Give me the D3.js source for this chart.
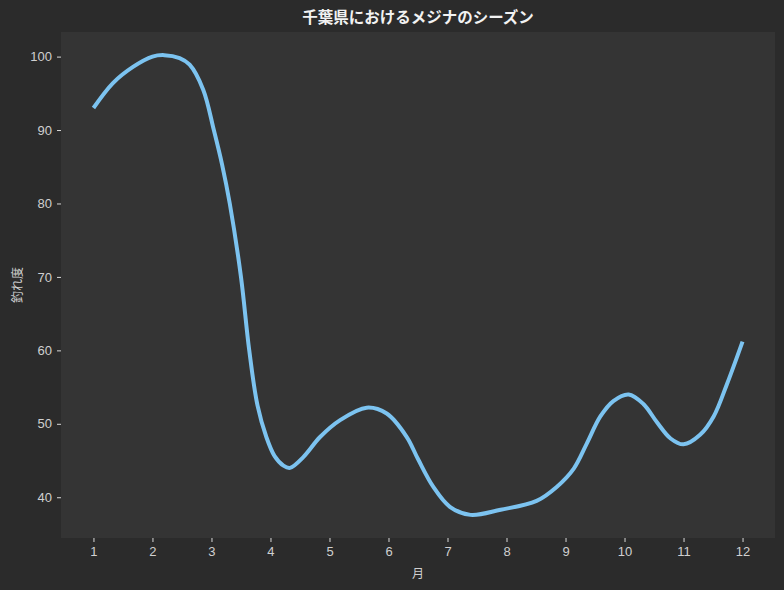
<!DOCTYPE html>
<html>
<head>
<meta charset="utf-8">
<script src="https://cdn.jsdelivr.net/npm/d3@7"></script>
<style>
  html, body { margin: 0; padding: 0; background: #2b2b2b; }
  svg { display: block; font-family: "Noto Sans CJK JP", "Noto Sans", sans-serif; }
  .axis text { fill: #d0d0d0; font-size: 13px; }
  .axis line { stroke: #d8d8d8; }
  .axis path { display: none; }
</style>
</head>
<body>
<svg id="chart"></svg>
<script>
// Season curve (month position, catch score)
const months = [1, 1.33, 1.67, 2.0, 2.2, 2.46, 2.63, 2.86, 3.04, 3.18, 3.31, 3.5, 3.64, 3.78, 3.93,
  4.07, 4.22, 4.33, 4.56, 4.84, 5.18, 5.63, 5.97, 6.31, 6.5, 6.76, 7.04, 7.39, 7.9, 8.51, 8.85,
  9.14, 9.36, 9.59, 9.81, 10.07, 10.32, 10.55, 10.78, 11.0, 11.28, 11.51, 11.74, 12];
const scores = [93.0, 96.4, 98.6, 100.0, 100.2, 99.8, 98.9, 95.5, 90.0, 85.3, 80.0, 70.0, 60.0, 52.5, 48.2,
  45.6, 44.3, 44.0, 45.5, 48.2, 50.5, 52.2, 51.4, 48.2, 45.2, 41.4, 38.7, 37.6, 38.3, 39.5, 41.4,
  43.9, 47.3, 51.0, 53.1, 54.0, 52.7, 50.2, 48.0, 47.2, 48.5, 51.0, 55.5, 61.2];
const xTicks = [1, 2, 3, 4, 5, 6, 7, 8, 9, 10, 11, 12];
const yTicks = [40, 50, 60, 70, 80, 90, 100];

const W = 784, H = 590;
const margin = { top: 32, right: 9, bottom: 52, left: 61 };
const w = W - margin.left - margin.right;
const h = H - margin.top - margin.bottom;

const svg = d3.select("#chart").attr("width", W).attr("height", H);
svg.append("rect").attr("width", W).attr("height", H).attr("fill", "#2b2b2b");

const g = svg.append("g").attr("transform", `translate(${margin.left},${margin.top})`);
g.append("rect").attr("width", w).attr("height", h).attr("fill", "#343434");

const x = d3.scaleLinear().domain([0.45, 12.55]).range([0, w]);
const y = d3.scaleLinear().domain([34.45, 103.35]).range([h, 0]);

const pts = months.map((m, i) => ({ m, v: scores[i] }));

g.append("path").datum(pts)
  .attr("d", d3.line().x(d => x(d.m)).y(d => y(d.v)).curve(d3.curveCatmullRom.alpha(0.5)))
  .attr("fill", "none").attr("stroke", "#7cc3f0").attr("stroke-width", 4)
  .attr("stroke-linejoin", "round");

// Axes
g.append("g").attr("class", "axis").attr("transform", `translate(0,${h})`)
  .call(d3.axisBottom(x).tickValues(xTicks).tickSize(4).tickPadding(5).tickFormat(d3.format("d")));
g.append("g").attr("class", "axis")
  .call(d3.axisLeft(y).tickValues(yTicks).tickSize(4).tickPadding(5));

// Title and labels
svg.append("text").attr("x", margin.left + w / 2).attr("y", 23)
  .attr("text-anchor", "middle").style("font-size", "15.5px").style("font-weight", "700")
  .style("fill", "#f2f2f2").text("千葉県におけるメジナのシーズン");
svg.append("text").attr("x", margin.left + w / 2).attr("y", 578)
  .attr("text-anchor", "middle").style("font-size", "12px").style("fill", "#d0d0d0").text("月");
svg.append("text").attr("transform", `translate(22,${margin.top + h / 2}) rotate(-90)`)
  .attr("text-anchor", "middle").style("font-size", "12px").style("fill", "#d0d0d0").text("釣れ度");
</script>
</body>
</html>
